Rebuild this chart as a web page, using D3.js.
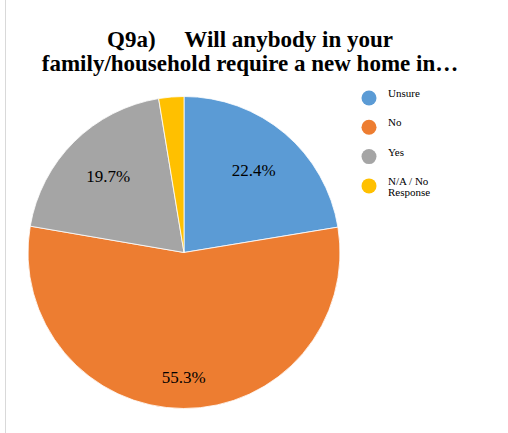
<!DOCTYPE html>
<html>
<head>
<meta charset="utf-8">
<script src="https://cdn.jsdelivr.net/npm/d3@7"></script>
<style>
  html, body { margin: 0; padding: 0; background: #fff; }
  svg { display: block; }
</style>
</head>
<body>
<svg id="chart" width="508" height="433"></svg>
<script>
// Survey responses, share of all answers (%)
const categories = ["Unsure", "No", "Yes", "N/A / No Response"];
const legendLines = [["Unsure"], ["No"], ["Yes"], ["N/A / No", "Response"]];
const values = [22.4, 55.3, 19.7, 2.6];
const colors = ["#5B9BD5", "#ED7D31", "#A5A5A5", "#FFC000"];
const titleLines = ["Q9a)\u00A0\u00A0\u00A0\u00A0\u00A0Will anybody in your", "family/household require a new home in\u2026"];

const serif = '"Liberation Serif"';
const svg = d3.select("#chart");

// thin frame line along the left edge
svg.append("line")
  .attr("x1", 5.5).attr("x2", 5.5).attr("y1", 0).attr("y2", 433)
  .attr("stroke", "#d9d9d9").attr("stroke-width", 1);

// title
svg.append("g").selectAll("text").data(titleLines).join("text")
  .attr("x", 250)
  .attr("y", (d, i) => 47 + i * 24)
  .attr("text-anchor", "middle")
  .style("font-family", serif)
  .style("font-weight", "bold")
  .style("font-size", "23px")
  .attr("fill", "#000")
  .text(d => d);

// pie
const cx = 184, cy = 252.5, r = 156;
const pie = d3.pie().sort(null).value(d => d);
const arcs = pie(values);
const arc = d3.arc().innerRadius(0).outerRadius(r);

const g = svg.append("g").attr("transform", `translate(${cx},${cy})`);
g.selectAll("path").data(arcs).join("path")
  .attr("d", arc)
  .attr("fill", (d, i) => colors[i])
  .attr("stroke", "#fff")
  .attr("stroke-width", 0.8);

// data labels (the tiny slice carries none)
const labelRadius = d => (d.endAngle - d.startAngle > Math.PI ? 0.8 : 0.69) * r;
g.selectAll("text").data(arcs.filter(d => d.data >= 5)).join("text")
  .attr("transform", d => {
    const a = (d.startAngle + d.endAngle) / 2;
    const lr = labelRadius(d);
    return `translate(${Math.sin(a) * lr},${-Math.cos(a) * lr})`;
  })
  .attr("dy", "0.35em")
  .attr("text-anchor", "middle")
  .style("font-family", serif)
  .style("font-size", "17px")
  .attr("fill", "#000")
  .text(d => d3.format(".1f")(d.data) + "%");

// legend
const legend = svg.append("g");
const item = legend.selectAll("g").data(categories).join("g")
  .attr("transform", (d, i) => `translate(369,${98 + i * 29.3})`);
item.append("circle")
  .attr("r", 7.5)
  .attr("fill", (d, i) => colors[i]);
item.each(function(d, i) {
  const t = d3.select(this).append("text")
    .attr("x", 19)
    .attr("y", -1)
    .style("font-family", serif)
    .style("font-size", "11px")
    .attr("fill", "#000");
  legendLines[i].forEach((line, j) => {
    t.append("tspan").attr("x", 19).attr("dy", j === 0 ? 0 : 11).text(line);
  });
});
</script>
</body>
</html>
